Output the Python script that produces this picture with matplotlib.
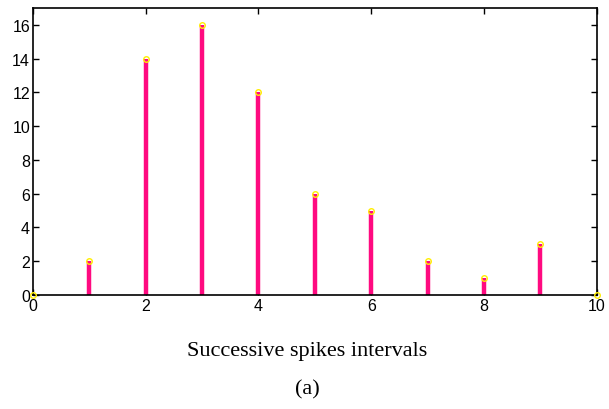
import numpy as np
import matplotlib.pyplot as plt

# histogram of successive spike intervals
intervals = [0, 1, 2, 3, 4, 5, 6, 7, 8, 9, 10]
counts = [0, 2, 14, 16, 12, 6, 5, 2, 1, 3, 0]

fig = plt.figure(figsize=(6.09, 4.10), dpi=100)
ax = fig.add_axes([0.054, 0.278, 0.926, 0.700])

ax.vlines(intervals, 0, counts, color='#ff0a80', linewidth=3.2, zorder=2)
ax.plot(intervals, counts, linestyle='None', marker='o', ms=4, mfc='none',
        mec='#ffee00', mew=1.0, zorder=3, clip_on=False)

ax.set_xlim(0, 10)
ax.set_ylim(0, 17)
ax.set_xticks(np.arange(0, 11, 2))
ax.set_yticks(np.arange(0, 17, 2))
ax.tick_params(direction='in', top=True, right=True, length=4, width=1,
               labelsize=11.5, pad=2)
for lab in ax.get_xticklabels() + ax.get_yticklabels():
    lab.set_family('Liberation Sans')
for s in ax.spines.values():
    s.set_linewidth(1.2)

fig.text(0.505, 0.143, 'Successive spikes intervals', ha='center', va='center',
         family='Liberation Serif', fontsize=16)
fig.text(0.505, 0.050, '(a)', ha='center', va='center',
         family='Liberation Serif', fontsize=16)

fig.savefig('out.png', dpi=100)
